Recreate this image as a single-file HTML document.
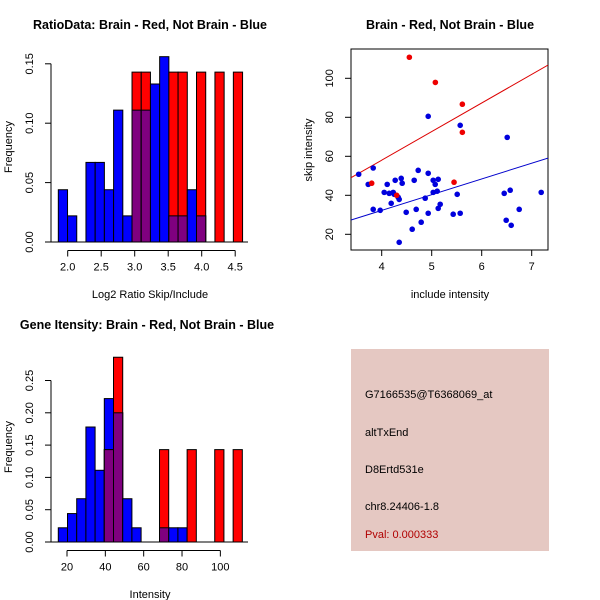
<!DOCTYPE html>
<html><head><meta charset="utf-8"><style>
body{margin:0;background:#fff}
svg{display:block;font-family:"Liberation Sans",sans-serif}
</style></head><body>
<svg id="s" width="600" height="600" viewBox="0 0 600 600">
<rect width="600" height="600" fill="#fff"/>
<text x="150" y="29" text-anchor="middle" font-size="12.5" font-weight="bold">RatioData: Brain - Red, Not Brain - Blue</text>
<text x="450" y="29" text-anchor="middle" font-size="12.5" font-weight="bold">Brain - Red, Not Brain - Blue</text>
<text x="147" y="329" text-anchor="middle" font-size="12.5" font-weight="bold">Gene Itensity: Brain - Red, Not Brain - Blue</text>
<text x="150" y="298" text-anchor="middle" font-size="11">Log2 Ratio Skip/Include</text>
<text x="12" y="147" text-anchor="middle" font-size="11" transform="rotate(-90 12 147)">Frequency</text>
<text x="450" y="298" text-anchor="middle" font-size="11">include intensity</text>
<text x="312" y="150" text-anchor="middle" font-size="11" transform="rotate(-90 312 150)">skip intensity</text>
<text x="150" y="598" text-anchor="middle" font-size="11">Intensity</text>
<text x="12" y="447" text-anchor="middle" font-size="11" transform="rotate(-90 12 447)">Frequency</text>
<g>
<rect x="351" y="349" width="198" height="202" fill="#e5c8c2"/>
<text x="365" y="398" font-size="11">G7166535@T6368069_at</text>
<text x="365" y="436" font-size="11">altTxEnd</text>
<text x="365" y="473" font-size="11">D8Ertd531e</text>
<text x="365" y="510" font-size="11">chr8.24406-1.8</text>
<text x="365" y="538" font-size="11" fill="#b00000">Pval: 0.000333</text>
</g>
</svg>
<script>
// Ratio histogram data
const ratioStart = 1.86, ratioWidth = 0.1375;
const ratioBlue = [0.044,0.022,0,0.067,0.067,0.044,0.111,0.022,0.111,0.111,0.133,0.156,0.022,0.022,0.044,0.022,0,0,0,0];
const ratioRed  = [0,0,0,0,0,0,0,0,0.143,0.143,0,0,0.143,0.143,0,0.143,0,0.143,0,0.143];
const ratioXTicks = [2.0,2.5,3.0,3.5,4.0,4.5];
const ratioYTicks = [0.00,0.05,0.10,0.15];
// Intensity histogram data
const intStart = 15.46, intWidth = 4.8;
const intBlue = [0.022,0.044,0.067,0.178,0.111,0.222,0.2,0.067,0.022,0,0,0.022,0.022,0.022,0,0,0,0,0,0];
const intRed  = [0,0,0,0,0,0.143,0.286,0,0,0,0,0.143,0,0,0.143,0,0,0.143,0,0.143];
const intXTicks = [20,40,60,80,100];
const intYTicks = [0.00,0.05,0.10,0.15,0.20,0.25];
// Scatter data
const redX = [4.553,5.073,5.613,5.613,5.447,3.8,4.3];
const redY = [110.8,97.9,86.7,72.3,46.7,46.2,40];
const blueX = [3.54,3.73,3.83,3.83,3.97,4.05,4.11,4.15,4.19,4.23,4.25,4.27,4.33,4.35,4.35,4.39,4.41,4.49,4.61,4.65,4.69,4.73,4.79,4.87,4.93,4.93,4.93,5.03,5.03,5.07,5.11,5.13,5.13,5.17,5.43,5.51,5.57,5.57,6.45,6.51,6.49,6.57,6.59,6.75,7.19];
const blueY = [50.8,45.6,54.0,32.8,32.3,41.5,45.6,41.0,35.9,41.5,40.5,47.7,39.0,37.9,15.9,48.7,46.2,31.3,22.6,47.7,32.8,52.8,26.2,38.5,80.5,51.3,30.8,47.7,41.5,45.6,42.1,48.2,33.3,35.4,30.3,40.5,75.9,30.8,41.0,69.7,27.2,42.6,24.6,32.8,41.5];
const redLine = [49.0,106.8];
const blueLine = [27.3,59.1];
const scXTicks = [4,5,6,7];
const scYTicks = [20,40,60,80,100];

const NS="http://www.w3.org/2000/svg";
const svg=document.getElementById('s');
function mk(t,a,p){const e=document.createElementNS(NS,t);for(const k in a)e.setAttribute(k,a[k]);(p||svg).appendChild(e);return e;}

function hist(start,w,blue,red,sx,sy,xt,yt,axY,baseX0,baseX1,name,fmt){
  const g=mk('g',{});
  
  
  for(let i=0;i<blue.length;i++){
    const x0=sx(start+i*w),x1=sx(start+(i+1)*w);
    const b=blue[i],r=red[i],m=Math.min(b,r);
    if(b>0){const e=mk('rect',{x:x0,y:sy(b),width:x1-x0,height:sy(0)-sy(b),fill:'#0000ff',stroke:'#000','stroke-width':1},g);
      
      }
    if(r>0){const e=mk('rect',{x:x0,y:sy(r),width:x1-x0,height:sy(0)-sy(r),fill:'#ff0000',stroke:'#000','stroke-width':1},g);
      
      }
    if(m>0){const e=mk('rect',{x:x0,y:sy(m),width:x1-x0,height:sy(0)-sy(m),fill:'#7f007f',stroke:'#000','stroke-width':1},g);
      
      }
  }
  mk('line',{x1:baseX0,x2:baseX1,y1:sy(0),y2:sy(0),stroke:'#000'},g);
  mk('line',{x1:sx(xt[0]),x2:sx(xt[xt.length-1]),y1:axY,y2:axY,stroke:'#000'},g);
  xt.forEach(v=>{mk('line',{x1:sx(v),x2:sx(v),y1:axY,y2:axY+6,stroke:'#000'},g);
    const t=mk('text',{x:sx(v),y:axY+20,'text-anchor':'middle','font-size':11},g);t.textContent=fmt(v);
    
    });
  mk('line',{x1:51,x2:51,y1:sy(yt[0]),y2:sy(yt[yt.length-1]),stroke:'#000'},g);
  yt.forEach(v=>{mk('line',{x1:45,x2:51,y1:sy(v),y2:sy(v),stroke:'#000'},g);
    const t=mk('text',{x:33,y:sy(v),'text-anchor':'middle','font-size':11,transform:`rotate(-90 33 ${sy(v)})`},g);t.textContent=v.toFixed(2);
    
    });
}
hist(ratioStart,ratioWidth,ratioBlue,ratioRed,v=>67.7+(v-2)*67,v=>242-v/0.05*59.4,ratioXTicks,ratioYTicks,250.5,51,248,'ratio-histogram',v=>v.toFixed(1));
hist(intStart,intWidth,intBlue,intRed,v=>67+(v-20)*1.917,v=>542-v/0.05*32.3,intXTicks,intYTicks,550.5,51,248,'intensity-histogram',v=>String(v));

const sx=v=>381.7+(v-4)*50, sy=v=>234.3-(v-20)*1.95;
const xmin=3.386,xmax=7.327;
const sg=mk('g',{});


mk('rect',{x:351,y:49,width:197,height:201,fill:'none',stroke:'#000'},sg);
const cp=mk('clipPath',{id:'cp'},sg);mk('rect',{x:351,y:49,width:197,height:201},cp);
let l=mk('line',{x1:sx(xmin),x2:sx(xmax),y1:sy(redLine[0]),y2:sy(redLine[1]),stroke:'#dd0000','clip-path':'url(#cp)'},sg);


l=mk('line',{x1:sx(xmin),x2:sx(xmax),y1:sy(blueLine[0]),y2:sy(blueLine[1]),stroke:'#0000cc','clip-path':'url(#cp)'},sg);


blueX.forEach((x,i)=>{const c=mk('circle',{cx:sx(x),cy:sy(blueY[i]),r:2.8,fill:'#0000dd'},sg);
  
  });
redX.forEach((x,i)=>{const c=mk('circle',{cx:sx(x),cy:sy(redY[i]),r:2.8,fill:'#ee0000'},sg);
  
  });
scXTicks.forEach(v=>{mk('line',{x1:sx(v),x2:sx(v),y1:250,y2:256,stroke:'#000'},sg);
  const t=mk('text',{x:sx(v),y:270,'text-anchor':'middle','font-size':11},sg);t.textContent=v;
  
  });
scYTicks.forEach(v=>{mk('line',{x1:345,x2:351,y1:sy(v),y2:sy(v),stroke:'#000'},sg);
  const t=mk('text',{x:333,y:sy(v),'text-anchor':'middle','font-size':11,transform:`rotate(-90 333 ${sy(v)})`},sg);t.textContent=v;
  
  });
</script>
</body></html>
